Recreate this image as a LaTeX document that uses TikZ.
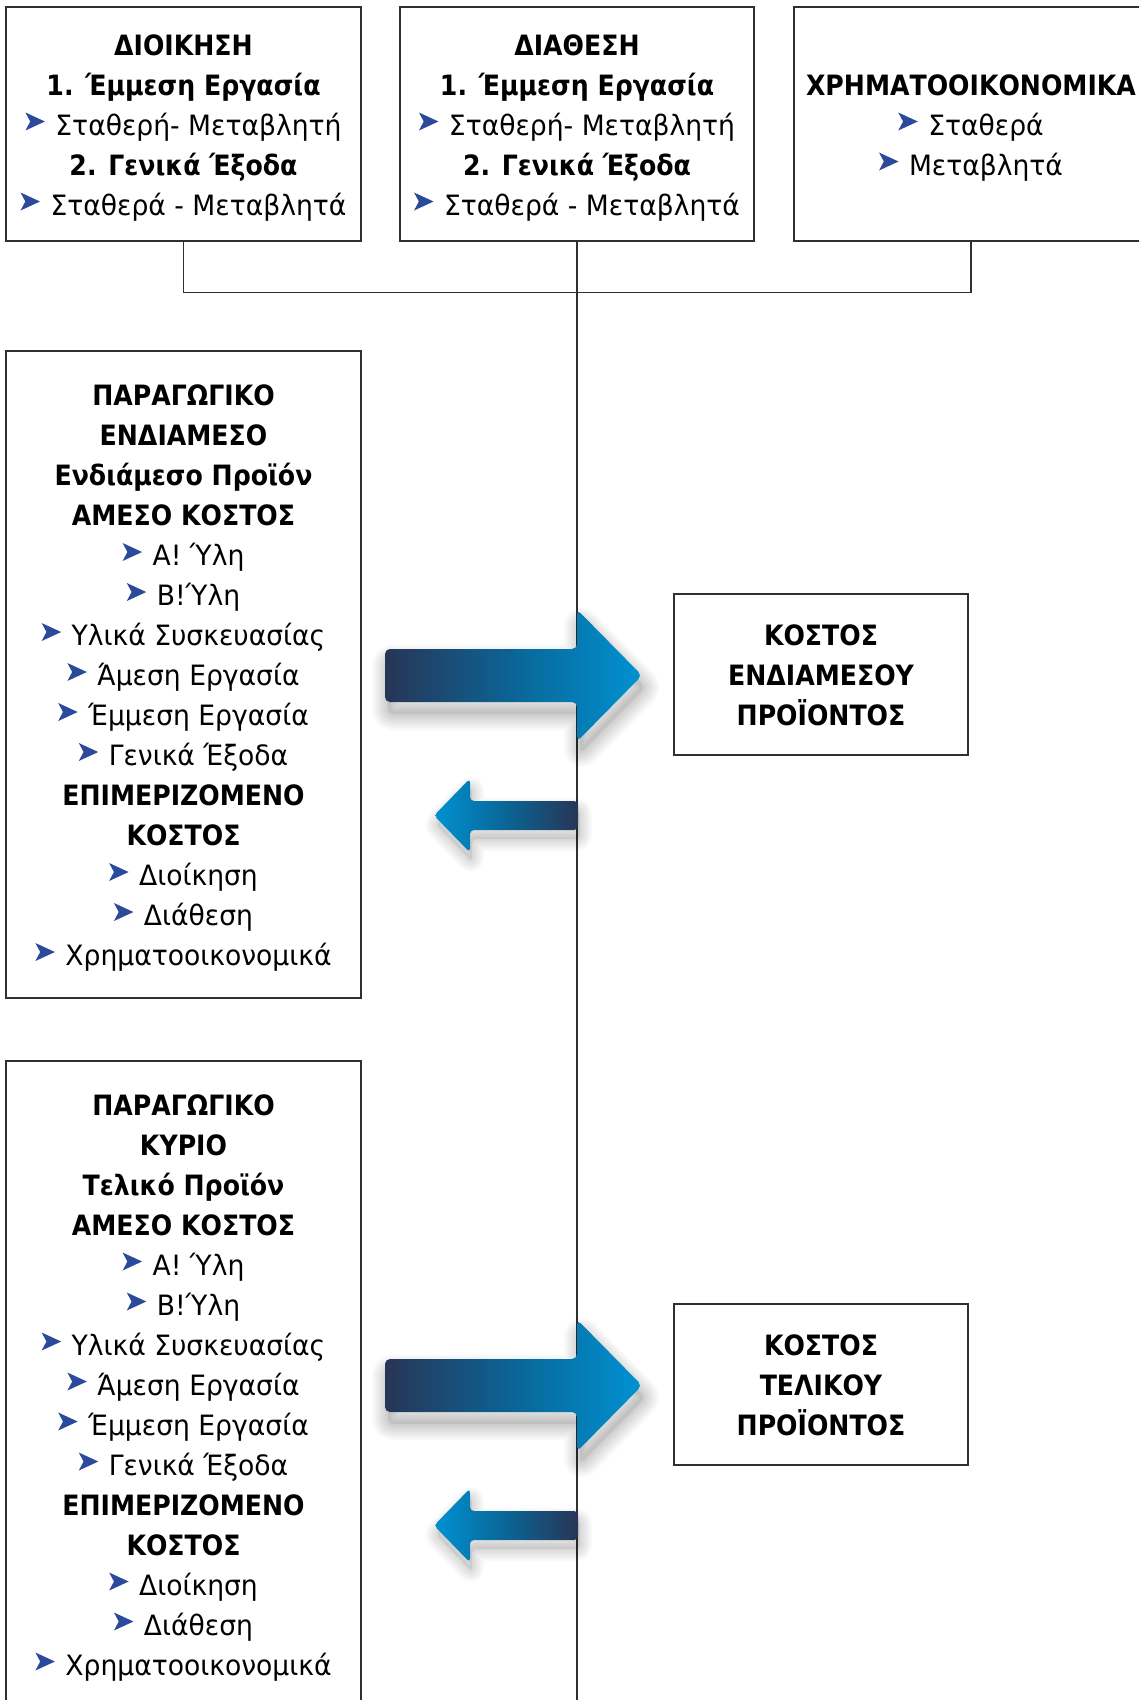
\documentclass[tikz,border=0pt]{standalone}
\usepackage{fontspec}
\setmainfont{DejaVu Sans}[FakeStretch=0.95]
\newfontfamily\bfam{DejaVu Sans}[FakeStretch=0.9]
\usetikzlibrary{calc}
\definecolor{bulc}{HTML}{2B4A9B}
\definecolor{navyc}{HTML}{283556}
\definecolor{midb}{HTML}{0A6596}
\definecolor{lightb}{HTML}{0092D2}
\definecolor{edgec}{HTML}{303030}
\newcommand\fs{\fontsize{28}{40}\selectfont}
\newcommand\B[1]{{\bfam\bfseries #1}}
\newcommand\topS{\rule{0pt}{32pt}}
\newcommand\botS{\rule[-10pt]{0pt}{10pt}}
\newcommand\bul{\tikz[x=1pt,y=1pt,baseline=0pt]\fill[bulc](0,4.5)--(19.5,13.5)--(0,22.5)--(4.8,13.5)--cycle;\hspace{10.5pt}}
\tikzset{
  box/.style={draw=edgec, line width=1.4pt, fill=white, align=center, inner sep=0pt, font=\fs},
  conn/.style={draw=edgec, line width=1.4pt},
  shad/.style={black, opacity=0.022, line join=round},
  rarr/.pic={
    \begin{scope}[shift={(3,12)}]
      \foreach \w in {4,8,...,32}{
        \draw[shad, line width=\w pt, rounded corners=5pt] (0,-26.5) -- (192,-26.5) -- (192,-66) -- (257,0) -- (192,66) -- (192,26.5) -- (0,26.5) -- cycle;}
      \fill[black, opacity=0.07, rounded corners=5pt] (0,-26.5) -- (192,-26.5) -- (192,-66) -- (257,0) -- (192,66) -- (192,26.5) -- (0,26.5) -- cycle;
    \end{scope}
    \shade[left color=navyc, right color=lightb, middle color=midb, rounded corners=5pt]
      (0,-26.5) -- (192,-26.5) -- (192,-66) -- (257,0) -- (192,66) -- (192,26.5) -- (0,26.5) -- cycle;
  },
  larr/.pic={
    \begin{scope}[shift={(2,9)}]
      \foreach \w in {4,8,...,24}{
        \draw[shad, line width=\w pt, rounded corners=4pt] (0,-14.5) -- (-108,-14.5) -- (-108,-37) -- (-144,0) -- (-108,37) -- (-108,14.5) -- (0,14.5) -- cycle;}
      \fill[black, opacity=0.07, rounded corners=4pt] (0,-14.5) -- (-108,-14.5) -- (-108,-37) -- (-144,0) -- (-108,37) -- (-108,14.5) -- (0,14.5) -- cycle;
    \end{scope}
    \shade[left color=lightb, right color=navyc, middle color=midb, rounded corners=4pt]
      (0,-14.5) -- (-108,-14.5) -- (-108,-37) -- (-144,0) -- (-108,37) -- (-108,14.5) -- (0,14.5) -- cycle;
  }
}
\begin{document}
\begin{tikzpicture}[x=1pt,y=-1pt]
\useasboundingbox (0,0) rectangle (1139,1700);
\clip (0,0) rectangle (1139,1700);
\fill[white] (0,0) rectangle (1139,1700);

% top boxes
\node[box, minimum width=355pt, minimum height=234pt] (dioik) at (183.5,124)
  {\topS\B{ΔΙΟΙΚΗΣΗ}\\ \B{1. Έμμεση Εργασία}\\ \bul Σταθερή- Μεταβλητή\\ \B{2. Γενικά Έξοδα}\\ \bul Σταθερά - Μεταβλητά\botS};
\node[box, minimum width=354pt, minimum height=234pt] (diath) at (577,124)
  {\topS\B{ΔΙΑΘΕΣΗ}\\ \B{1. Έμμεση Εργασία}\\ \bul Σταθερή- Μεταβλητή\\ \B{2. Γενικά Έξοδα}\\ \bul Σταθερά - Μεταβλητά\botS};
\node[box, minimum width=354pt, minimum height=234pt] (xrim) at (971,124)
  {\topS\B{ΧΡΗΜΑΤΟΟΙΚΟΝΟΜΙΚΑ}\\ \bul Σταθερά\\ \bul Μεταβλητά\botS};

% connectors
\coordinate (lineend) at (577,1700);
\draw[conn] (dioik.south) -- ++(0,51) -| (xrim.south);
\draw[conn] (diath.south) -- (lineend);

% left boxes
\node[box, minimum width=355pt, minimum height=647pt] (endiam) at (183.5,674.5)
  {\topS\B{ΠΑΡΑΓΩΓΙΚΟ}\\ \B{ΕΝΔΙΑΜΕΣΟ}\\ \B{Ενδιάμεσο Προϊόν}\\ \B{ΑΜΕΣΟ ΚΟΣΤΟΣ}\\
   \bul Α! Ύλη\\ \bul Β!Ύλη\\ \bul Υλικά Συσκευασίας\\ \bul Άμεση Εργασία\\ \bul Έμμεση Εργασία\\ \bul Γενικά Έξοδα\\
   \B{ΕΠΙΜΕΡΙΖΟΜΕΝΟ}\\ \B{ΚΟΣΤΟΣ}\\ \bul Διοίκηση\\ \bul Διάθεση\\ \bul Χρηματοοικονομικά\botS};
\node[box, minimum width=355pt, minimum height=646pt] (kyrio) at (183.5,1384)
  {\topS\B{ΠΑΡΑΓΩΓΙΚΟ}\\ \B{ΚΥΡΙΟ}\\ \B{Τελικό Προϊόν}\\ \B{ΑΜΕΣΟ ΚΟΣΤΟΣ}\\
   \bul Α! Ύλη\\ \bul Β!Ύλη\\ \bul Υλικά Συσκευασίας\\ \bul Άμεση Εργασία\\ \bul Έμμεση Εργασία\\ \bul Γενικά Έξοδα\\
   \B{ΕΠΙΜΕΡΙΖΟΜΕΝΟ}\\ \B{ΚΟΣΤΟΣ}\\ \bul Διοίκηση\\ \bul Διάθεση\\ \bul Χρηματοοικονομικά\botS};

% arrows
\pic at (385,675.5) {rarr};
\pic at (578,815.5) {larr};
\pic at (385,1385.5) {rarr};
\pic at (578,1525.5) {larr};

% cost boxes
\node[box, minimum width=294pt, minimum height=161pt] (kend) at (821,674.5)
  {\topS\B{ΚΟΣΤΟΣ}\\ \B{ΕΝΔΙΑΜΕΣΟΥ}\\ \B{ΠΡΟΪΟΝΤΟΣ}\botS};
\node[box, minimum width=294pt, minimum height=161pt] (ktel) at (821,1384.5)
  {\topS\B{ΚΟΣΤΟΣ}\\ \B{ΤΕΛΙΚΟΥ}\\ \B{ΠΡΟΪΟΝΤΟΣ}\botS};
\end{tikzpicture}
\end{document}
